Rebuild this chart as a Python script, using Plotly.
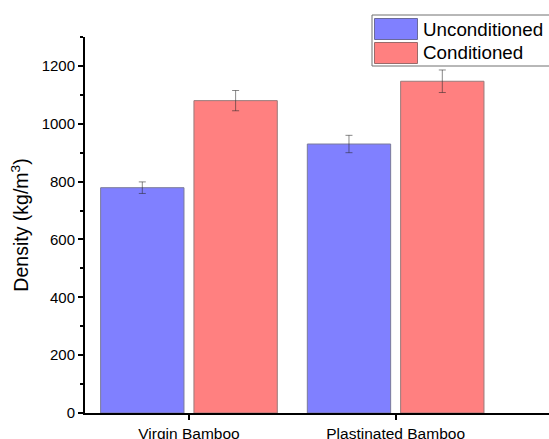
import plotly.graph_objects as go

# Density of bamboo samples, grouped by sample type
categories = ["Virgin Bamboo", "Plastinated Bamboo"]
unconditioned = [779, 930]
unconditioned_err = [20, 30]
conditioned = [1080, 1147]
conditioned_err = [35, 39]

series_names = ["Unconditioned", "Conditioned"]
blue = "#8080FF"
red = "#FF8080"
err_color = "rgba(40,40,40,0.55)"
font_family = "Liberation Sans, Arial, sans-serif"

fig = go.Figure()
fig.add_trace(go.Bar(
    x=categories, y=unconditioned, name=series_names[0],
    marker=dict(color=blue, line=dict(color="#7a7a9a", width=1)),
    error_y=dict(type="data", array=unconditioned_err, color=err_color,
                 thickness=1, width=3.5),
    showlegend=False,
))
fig.add_trace(go.Bar(
    x=categories, y=conditioned, name=series_names[1],
    marker=dict(color=red, line=dict(color="#9a7a7a", width=1)),
    error_y=dict(type="data", array=conditioned_err, color=err_color,
                 thickness=1, width=3.5),
    showlegend=False,
))

# plot-area geometry (pixels) used for the hand-drawn legend box
L, T, W, H = 85, 37, 464, 376


def px(x):
    return (x - L) / W


def py(y):
    return (T + H - y) / H


shapes = [
    dict(type="rect", xref="paper", yref="paper",
         x0=px(372), x1=px(560), y0=py(66), y1=py(15),
         line=dict(color="#707070", width=1), fillcolor="white", layer="above"),
    dict(type="rect", xref="paper", yref="paper",
         x0=px(374.5), x1=px(417.5), y0=py(39.5), y1=py(18.5),
         line=dict(color="#6a6a9a", width=1), fillcolor=blue, layer="above"),
    dict(type="rect", xref="paper", yref="paper",
         x0=px(374.5), x1=px(417.5), y0=py(63.5), y1=py(42.5),
         line=dict(color="#9a6a6a", width=1), fillcolor=red, layer="above"),
]
annotations = [
    dict(xref="paper", yref="paper", x=px(421), y=py(29.5), text=series_names[0],
         showarrow=False, xanchor="left", yanchor="middle",
         font=dict(size=18.8, color="black", family=font_family)),
    dict(xref="paper", yref="paper", x=px(421), y=py(53), text=series_names[1],
         showarrow=False, xanchor="left", yanchor="middle",
         font=dict(size=18.8, color="black", family=font_family)),
]

fig.update_layout(
    width=549, height=439,
    margin=dict(l=L, r=0, t=T, b=439 - T - H),
    paper_bgcolor="white", plot_bgcolor="white",
    barmode="group", bargap=0.097, bargroupgap=0.107,
    font=dict(family=font_family, size=15, color="black"),
    shapes=shapes, annotations=annotations,
    xaxis=dict(
        range=[-0.503, 1.742], showline=True, linecolor="black", linewidth=2,
        ticks="outside", ticklen=5, tickwidth=1.5, tickcolor="black",
        showgrid=False, zeroline=False, automargin=False,
        tickfont=dict(size=15.5),
    ),
    yaxis=dict(
        range=[0, 1300], showline=True, linecolor="black", linewidth=2,
        ticks="outside", ticklen=5, tickwidth=1.5, tickcolor="black",
        tickvals=[0, 200, 400, 600, 800, 1000, 1200],
        minor=dict(tickvals=[100, 300, 500, 700, 900, 1100, 1300],
                   ticks="outside", ticklen=3, tickwidth=1.5, tickcolor="black"),
        showgrid=False, zeroline=False, automargin=False,
        tickfont=dict(size=15),
        title=dict(text="Density (kg/m<sup>3</sup>)", font=dict(size=19.5), standoff=8),
    ),
)

fig.write_html("out.html")
